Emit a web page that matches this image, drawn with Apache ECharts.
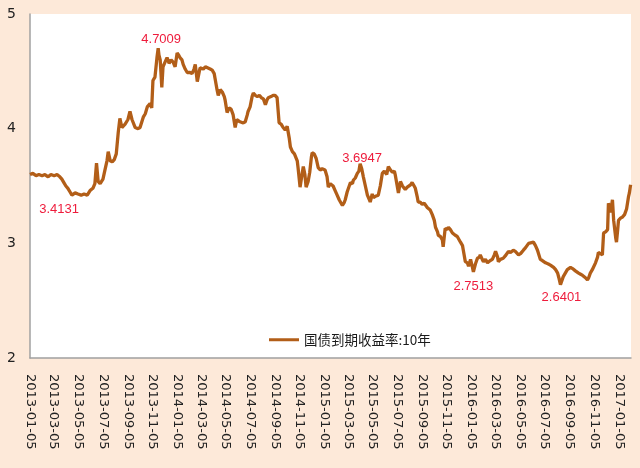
<!DOCTYPE html>
<html>
<head>
<meta charset="utf-8">
<script src="https://cdn.jsdelivr.net/npm/echarts@6/dist/echarts.min.js"></script>
<style>html,body{margin:0;padding:0;background:#FDE9D9;}#c{width:640px;height:468px;}</style>
</head>
<body>
<div id="c"></div>
<script>
var seriesName = '国债到期收益率:10年';
var dates = [
'2013-01-05','2013-01-12','2013-01-20','2013-01-27','2013-02-04','2013-02-11','2013-02-19','2013-02-26','2013-03-06','2013-03-13',
'2013-03-20','2013-03-25','2013-03-30','2013-04-04','2013-04-09','2013-04-14','2013-04-19','2013-04-22','2013-04-27','2013-05-04',
'2013-05-12','2013-05-19','2013-05-27','2013-06-03','2013-06-10','2013-06-15','2013-06-19','2013-06-23','2013-06-28','2013-07-05',
'2013-07-10','2013-07-15','2013-07-18','2013-07-23','2013-07-28','2013-08-02','2013-08-07','2013-08-12','2013-08-16','2013-08-21',
'2013-08-29','2013-09-05','2013-09-10','2013-09-15','2013-09-23','2013-09-30','2013-10-05','2013-10-13','2013-10-18','2013-10-23',
'2013-10-30','2013-11-03','2013-11-06','2013-11-11','2013-11-16','2013-11-19','2013-11-21','2013-11-24','2013-11-28','2013-12-01',
'2013-12-06','2013-12-11','2013-12-16','2013-12-21','2013-12-26','2013-12-31','2014-01-05','2014-01-09','2014-01-12','2014-01-17',
'2014-01-20','2014-01-25','2014-01-30','2014-02-06','2014-02-11','2014-02-16','2014-02-19','2014-02-24','2014-03-01','2014-03-03',
'2014-03-11','2014-03-16','2014-03-20','2014-03-28','2014-04-02','2014-04-07','2014-04-09','2014-04-14','2014-04-17','2014-04-22',
'2014-04-27','2014-05-02','2014-05-04','2014-05-09','2014-05-14','2014-05-19','2014-05-24','2014-05-29','2014-06-02','2014-06-05',
'2014-06-10','2014-06-18','2014-06-23','2014-06-28','2014-06-30','2014-07-05','2014-07-10','2014-07-13','2014-07-18','2014-07-23',
'2014-07-28','2014-08-02','2014-08-07','2014-08-12','2014-08-16','2014-08-19','2014-08-26','2014-08-31','2014-09-05','2014-09-10',
'2014-09-15','2014-09-20','2014-09-25','2014-09-30','2014-10-05','2014-10-10','2014-10-13','2014-10-18','2014-10-23','2014-10-25',
'2014-10-30','2014-11-01','2014-11-06','2014-11-10','2014-11-14','2014-11-18','2014-11-21','2014-11-26','2014-11-30','2014-12-04',
'2014-12-06','2014-12-11','2014-12-16','2014-12-19','2014-12-21','2014-12-26','2014-12-31','2015-01-07','2015-01-12','2015-01-15',
'2015-01-20','2015-01-27','2015-02-01','2015-02-06','2015-02-11','2015-02-19','2015-02-24','2015-02-26','2015-03-03','2015-03-11',
'2015-03-16','2015-03-18','2015-03-23','2015-03-28','2015-04-01','2015-04-04','2015-04-08','2015-04-12','2015-04-17','2015-04-22',
'2015-04-27','2015-04-29','2015-05-04','2015-05-07','2015-05-12','2015-05-19','2015-05-24','2015-05-29','2015-06-03','2015-06-05',
'2015-06-09','2015-06-13','2015-06-18','2015-06-23','2015-06-28','2015-06-30','2015-07-05','2015-07-08','2015-07-13','2015-07-18',
'2015-07-25','2015-07-30','2015-08-02','2015-08-07','2015-08-11','2015-08-16','2015-08-19','2015-08-24','2015-08-26','2015-08-31',
'2015-09-05','2015-09-10','2015-09-18','2015-09-25','2015-09-30','2015-10-05','2015-10-08','2015-10-13','2015-10-15','2015-10-20',
'2015-10-25','2015-10-27','2015-11-01','2015-11-06','2015-11-09','2015-11-14','2015-11-19','2015-11-26','2015-12-01','2015-12-09',
'2015-12-14','2015-12-16','2015-12-21','2015-12-26','2015-12-29','2016-01-03','2016-01-07','2016-01-10','2016-01-15','2016-01-20',
'2016-01-25','2016-01-27','2016-02-01','2016-02-04','2016-02-09','2016-02-14','2016-02-21','2016-02-26','2016-03-02','2016-03-05',
'2016-03-10','2016-03-12','2016-03-17','2016-03-24','2016-03-29','2016-04-06','2016-04-11','2016-04-18','2016-04-23','2016-05-01',
'2016-05-06','2016-05-13','2016-05-18','2016-05-26','2016-05-30','2016-06-07','2016-06-12','2016-06-17','2016-06-24','2016-06-29',
'2016-07-07','2016-07-14','2016-07-19','2016-07-27','2016-08-01','2016-08-06','2016-08-09','2016-08-13','2016-08-18','2016-08-20',
'2016-08-25','2016-08-30','2016-09-07','2016-09-12','2016-09-14','2016-09-19','2016-09-27','2016-10-02','2016-10-07','2016-10-14',
'2016-10-19','2016-10-22','2016-10-26','2016-10-31','2016-11-08','2016-11-13','2016-11-15','2016-11-20','2016-11-25','2016-11-28',
'2016-12-03','2016-12-08','2016-12-10','2016-12-13','2016-12-15','2016-12-18','2016-12-20','2016-12-23','2016-12-28','2016-12-30',
'2017-01-02','2017-01-04','2017-01-09','2017-01-14','2017-01-19','2017-01-21','2017-01-24','2017-01-29','2017-01-31','2017-02-03'
];
var yields = [
3.60,3.61,3.59,3.60,3.59,3.60,3.58,3.60,3.59,3.60,
3.58,3.56,3.53,3.50,3.48,3.45,3.42,3.4131,3.44,3.43,
3.42,3.43,3.42,3.46,3.48,3.52,3.70,3.54,3.52,3.56,
3.64,3.72,3.80,3.72,3.71,3.73,3.78,3.97,4.09,4.01,
4.04,4.08,4.15,4.08,4.01,4.00,4.01,4.10,4.13,4.19,
4.22,4.18,4.42,4.45,4.62,4.7009,4.64,4.60,4.36,4.54,
4.58,4.62,4.57,4.60,4.58,4.54,4.66,4.64,4.62,4.60,
4.56,4.52,4.49,4.49,4.48,4.52,4.56,4.41,4.50,4.53,
4.52,4.54,4.53,4.52,4.51,4.48,4.44,4.34,4.29,4.34,
4.32,4.28,4.25,4.14,4.18,4.17,4.12,4.01,4.08,4.07,
4.06,4.05,4.06,4.12,4.15,4.19,4.28,4.31,4.29,4.28,
4.29,4.27,4.26,4.21,4.25,4.27,4.28,4.29,4.29,4.27,
4.05,4.04,4.01,3.99,4.02,3.92,3.84,3.80,3.78,3.77,
3.72,3.66,3.49,3.58,3.67,3.60,3.49,3.54,3.62,3.75,
3.79,3.78,3.74,3.74,3.66,3.64,3.65,3.64,3.58,3.49,
3.52,3.50,3.46,3.42,3.38,3.33,3.36,3.38,3.45,3.53,
3.52,3.55,3.57,3.61,3.63,3.6947,3.65,3.58,3.50,3.42,
3.38,3.36,3.43,3.40,3.41,3.42,3.50,3.61,3.63,3.64,
3.60,3.67,3.64,3.62,3.63,3.60,3.50,3.44,3.54,3.50,
3.47,3.49,3.48,3.51,3.53,3.50,3.48,3.40,3.36,3.36,
3.34,3.35,3.31,3.29,3.25,3.20,3.14,3.10,3.07,3.06,
3.03,2.97,3.13,3.12,3.14,3.12,3.09,3.07,3.06,3.01,
2.98,2.94,2.84,2.83,2.80,2.86,2.80,2.7513,2.82,2.87,
2.88,2.90,2.86,2.84,2.86,2.83,2.85,2.86,2.90,2.93,
2.88,2.84,2.86,2.87,2.89,2.93,2.92,2.94,2.93,2.90,
2.91,2.94,2.96,3.00,3.01,3.01,2.98,2.94,2.86,2.85,
2.83,2.82,2.81,2.79,2.77,2.74,2.70,2.6401,2.69,2.71,
2.74,2.77,2.79,2.78,2.77,2.76,2.74,2.73,2.72,2.70,
2.68,2.70,2.74,2.77,2.83,2.88,2.92,2.91,2.90,3.09,
3.10,3.12,3.35,3.30,3.27,3.33,3.38,3.20,3.05,3.01,
3.12,3.20,3.22,3.23,3.25,3.27,3.30,3.41,3.44,3.51
];
var tickDates = ['2013-01-05','2013-03-05','2013-05-05','2013-07-05','2013-09-05','2013-11-05',
'2014-01-05','2014-03-05','2014-05-05','2014-07-05','2014-09-05','2014-11-05',
'2015-01-05','2015-03-05','2015-05-05','2015-07-05','2015-09-05','2015-11-05',
'2016-01-05','2016-03-05','2016-05-05','2016-07-05','2016-09-05','2016-11-05','2017-01-05'];
var axisStart = '2013-01-05';
var axisEnd = '2017-02-04';
var yTicks = [2, 3, 4, 5];
var annotDates = ['2013-04-22','2013-11-19','2015-04-04','2016-01-10','2016-08-13'];
var annotValues = [3.4131, 4.7009, 3.6947, 2.7513, 2.6401];
var annotOffsets = [[-14, 13], [3, -9], [2, -5], [0, 15], [1, 13]];

function ts(s) { var p = s.split('-'); return Date.UTC(+p[0], +p[1] - 1, +p[2]); }
function pad(n) { return (n < 10 ? '0' : '') + n; }
function fmt(v) { var d = new Date(v); return d.getUTCFullYear() + '-' + pad(d.getUTCMonth() + 1) + '-' + pad(d.getUTCDate()); }

var seriesData = dates.map(function (d, i) { return [ts(d), yields[i]]; });
var tickVals = tickDates.map(ts);

var chart = echarts.init(document.getElementById('c'), null, {renderer: 'canvas'});
chart.setOption({
  backgroundColor: '#FDE9D9',
  animation: false,
  grid: {left: 30, right: 9, top: 14, bottom: 110, show: true, backgroundColor: '#FFFFFF', borderWidth: 0},
  legend: {
    data: [seriesName], left: 264, top: 328, itemWidth: 30, itemHeight: 3, itemGap: 4,
    icon: 'rect',
    textStyle: {fontFamily: 'Noto Sans CJK SC', fontSize: 13.5, color: '#1a1a1a'}
  },
  xAxis: {
    type: 'value', min: ts(axisStart), max: ts(axisEnd),
    axisLine: {show: true, onZero: false, lineStyle: {color: '#A0A0A0', width: 1.5}},
    axisTick: {show: false},
    splitLine: {show: false},
    axisLabel: {
      customValues: tickVals, rotate: -90, margin: 16, showMinLabel: true,
      fontFamily: 'DejaVu Sans', fontSize: 13, color: '#222',
      formatter: function (v) { return fmt(v); }
    }
  },
  yAxis: {
    type: 'value', min: yTicks[0], max: yTicks[yTicks.length - 1], interval: 1,
    axisLine: {show: true, lineStyle: {color: '#A0A0A0', width: 1.5}},
    axisTick: {show: false},
    splitLine: {show: false},
    axisLabel: {margin: 14, fontFamily: 'DejaVu Sans', fontSize: 14, color: '#222'}
  },
  series: [{
    name: seriesName, type: 'line', data: seriesData, symbol: 'none', showSymbol: false,
    lineStyle: {color: '#B25E18', width: 3.3},
    itemStyle: {color: '#B25E18'},
    markPoint: {
      symbol: 'circle', symbolSize: 0,
      label: {show: true, color: '#EE1C3C', fontFamily: 'Liberation Sans', fontSize: 13},
      data: annotDates.map(function (d, i) {
        return {coord: [ts(d), annotValues[i]], value: annotValues[i],
          label: {offset: annotOffsets[i], formatter: String(annotValues[i])}};
      })
    }
  }]
});
</script>
</body>
</html>
